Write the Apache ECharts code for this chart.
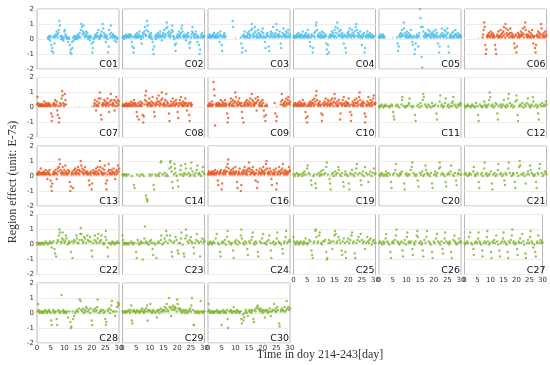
<!DOCTYPE html>
<html><head><meta charset="utf-8">
<script src="https://cdn.jsdelivr.net/npm/echarts@6/dist/echarts.min.js"></script>
<style>html,body{margin:0;padding:0;background:#fff}#c{width:550px;height:365px}</style>
</head><body><div id="c"></div>
<script>
const _ = null;
// sampling step of the series (days); values are region effect in E-7 s
const dayStep = 0.2;
const xTicks = [0, 5, 10, 15, 20, 25, 30];
const yTicks = [-2, -1, 0, 1, 2];
const panelNames = ['C01','C02','C03','C04','C05','C06','C07','C08','C09','C10','C11','C12','C13','C14','C16','C19','C20','C21','C22','C23','C24','C25','C26','C27','C28','C29','C30'];
const panelGroup = ['b','b','b','b','b','o','o','o','o','o','g','g','o','g','o','g','g','g','g','g','g','g','g','g','g','g','g'];

const C01=[_,_,_,_,_,_,_,_,_,_,_,_,_,_,_,_,_,_,_,_,
.1,0,.2,.1,-.1, .2,-.4,-.8,-.6,.1, -.9,.2,-.3,.1,.3, .2,.5,.3,.1,.4, .6,1.2,.9,.2,0, .1,.2,0,-.1,.1, .5,.6,.3,.2,.1, 0,.1,-.2,.1,0,
-.4,-.9,-.7,-1,-.2, -.6,.1,-.1,.2,.1, 0,.1,.2,0,.1, .3,.1,.2,.4,.1, .6,1,.8,.3,.5, .9,.4,.2,.1,.3, .5,.2,.4,.1,0, .2,.1,-.1,.2,.1,
-.3,-.9,-.6,-.2,0, .1,.2,.3,.1,.2, .4,.2,.6,.1,0, .2,.1,.3,.5,.2, 1,.7,.4,.1,.2, .3,-.2,.1,.2,0, -.9,-.5,.6,.3,.1, .9,.4,.2,.1,.3,
.2,.1,-.1,.2,.1, -.2,.1,0,_,_];
const C02=[.1,.2,.1,0,.2, .1,.2,.3,.1,.2, .2,.1,.3,.2,.1, .3,.2,-.2,-.5,.1, -.9,-.6,.2,.1,.3, .2,.1,.4,.2,.1, .3,.5,.2,.1,0, -.3,.2,.4,.1,.3,
.5,.8,.3,.2,.6, 1.2,.9,.5,.2,.1, .3,.1,.4,.2,0, -.2,-.7,-1,-.5,.1, .2,0,.3,.1,.2, .4,.2,.1,.3,.5, .2,.1,-.1,.2,.3, .4,.6,.2,.1,.3,
.7,1.1,.8,.4,.2, .5,.3,.1,.2,.4, .6,.9,.5,.2,.1, 0,-.4,-.8,-.3,.1, .2,.3,.1,.5,.2, .3,.1,.4,.7,.9, .5,.2,.1,.3,.2, .1,-.1,.2,.3,.1,
.4,.2,-.3,-.6,-.2, .1,.3,.5,.8,.4, .2,.1,.3,.1,.5, .3,.1,-.2,.2,.1, -.4,-1,-.7,.1,.3, .2,.4,.1,.2,.1, .2];
const C03=[.1,.2,.1,.3,.2, .1,.2,.1,.2,.3, .2,.4,.1,.2,.1, .3,.1,.2,.4,.2, .1,-.2,.3,.5,.2, -.4,-.8,.1,.2,.3, .4,.1,.2,_,_, _,_,_,_,_,
_,_,_,_,_, 1.2,.8,_,_,_, _,_,_,_,_, _,_,_,_,_, .1,-.3,-.9,-.6,.2, .3,.1,.5,.2,-.8, .1,.2,.4,.1,.3, .5,.3,.1,.2,.6,
1,.7,.3,.1,.2, .4,.8,.5,.2,.1, .3,.1,.6,.4,.2, .1,.3,.2,.5,.1, .7,.4,.2,.1,-.2, -.6,.1,.3,.2,.4, .2,-.5,-.8,.1,.3, .5,.2,.4,.1,.8,
.3,.2,.1,.4,.2, 1,.6,.3,.2,.1, .3,.5,.2,-.3,-.6, .1,.4,.2,.7,.3, .2,.1,.3,.5,.2, .1,.4,.6,.2,.1, .3];
const C04=[.1,.2,.1,.2,.1, .2,.3,.1,.2,.4, .2,.1,.3,.2,.1, .3,.2,.5,.1,.2, .1,.3,.2,.4,.1, .2,.6,.3,.1,.2, -.2,-.5,.1,.3,.2, -.9,-.6,.2,.4,.1,
.5,.9,1.1,.6,.2, .3,.1,.2,.4,.2, .1,.3,.5,.2,.1, .4,.2,.1,.3,.2, -.3,-.7,-1,-.4,.1, -.9,.2,.3,.1,.2, .5,.3,.2,.4,.1, .6,.2,.8,.4,.1,
1.1,.7,.3,.2,.5, .2,.6,.3,.1,.4, .2,.1,-.3,.3,.2, -.6,-.9,.1,.2,.4, .3,.5,.2,.7,.3, .1,.2,.6,.4,.2, .3,.1,.5,.2,.8, 1,.6,.2,.4,.1,
.3,.2,.5,.1,.2, -.4,.1,.3,.2,.4, -.9,-.6,.2,.1,.3, .5,.2,.1,.3,.2, .4,.1,.2,.3,.1, .2,.1,.2,_,_];
const C05=[.1,.2,.1,.3,.2, .1,.2,.3,.1,.2, .1,_,_,_,_, _,_,_,_,_, _,_,_,_,_, _,_,_,_,_, _,_,_,.1,-.3, -.8,-.5,.2,.3,.1,
.4,.2,.6,.3,.2, 1.1,.7,.4,.2,.1, .3,.5,.2,.1,.4, .2,.1,.3,.6,.2, .1,-.2,-.4,.1,.2, -1,-.7,-.3,.1,.2, .3,.1,-.5,.2,.4, 2,1.4,.8,-1.2,-1.9,
.8,.5,.2,.1,.3, .4,.2,.1,.3,.2, .6,.3,.2,.5,.1, .3,.1,.4,.2,.3, .5,.2,.1,.3,.6, .2,.4,.1,-.3,.2, -.9,-.5,.1,.3,.2, .7,.4,.2,.1,.3,
.6,.2,.5,.1,.3, .7,.4,-.5,-.9,.1, .2,.3,.1,.2,.4, .1,.5,.2,.1,.3, .6,.3,.2,.1,.4, .2,.1,.3,.2,.1, .2];
const C06=[_,_,_,_,_, _,_,_,_,_, _,_,_,_,_, _,_,_,_,_, _,_,_,_,_, _,_,_,_,_, _,_,_,.1,.3, .6,1.1,.8,-.4,-1,
-.7,.2,.1,.3,.2, .4,.2,.1,.5,.3, .2,.4,.1,.3,.2, .1,-.4,-.7,-1,.2, .3,.1,.5,.2,.1, .2,.6,.3,.1,.4, .2,.5,.8,.3,.1, 1,.7,.4,.2,.3,
.6,.3,.1,.4,.7, .2,.4,.1,.3,.2, .1,-.3,-.6,.2,.3, -.9,-.5,.1,.4,.2, .3,.1,.2,.5,.3, .2,.4,.7,.3,.1, .8,1.1,.6,.3,.2, .1,.3,.2,.5,.1,
.2,.4,.1,.3,.6, .2,-.3,.1,.2,-.6, -.9,-.4,.2,.3,.1, .5,.2,.4,.1,.3, 1,.7,.3,.1,.2, .4,.2,.1,.5,.3, .2];
const C07=[.2,.7,.3,.1,.2, .1,.2,.1,.2,.1, .2,.1,.2,.4,.1, .2,.1,.3,.1,.2, .1,.3,.2,.1,.2, .1,-.4,-.9,-.6,.2, .1,.3,.2,.5,.1, .2,.4,-.2,-.5,.1,
-1,-.7,.3,.1,.2, .6,1.1,.8,.3,.1, .2,.9,.5,.2,_, _,_,_,_,_, _,_,_,_,_, _,_,_,_,_, _,_,_,_,_, _,_,_,_,_,
_,_,_,_,_, _,_,_,_,_, _,_,_,_,_, _,_,_,_,_, _,_,_,_,.1, .3,.5,.2,-.2,.1, .4,.2,.1,.6,.3, 1,.6,-.5,-.8,.2,
.1,.3,.2,.5,.2, .4,.1,.3,.2,.6, .3,.1,-.3,.2,.4, .9,.5,.2,.1,.3, .2,.5,-.2,.1,.4, .7,.3,.1,.5,.2, .4];
const C08=[.1,.2,.1,.2,.1, .2,.1,.3,.2,.1, .2,.1,.2,.3,.1, .2,.4,.1,.2,.3, .1,.5,.2,.3,.1, .2,-.3,-.6,.1,.3, -.8,.2,.1,.4,.2, .1,.3,-.5,-1,-.6,
.2,.5,.8,1.1,.4, .2,.1,.3,.2,.6, .3,.1,.2,.4,.1, .7,.3,.2,-.3,-.6, .1,.3,.2,.6,.4, .2,.8,.4,.1,.3, .2,.5,1,.6,.2, .1,.3,.2,.5,.1,
.9,.4,.2,.3,.1, -.4,-.9,.1,.2,.4, .2,.1,.6,.3,.2, .4,.1,.2,.5,.3, .2,-.3,-.7,.1,.3, .5,.2,.7,.3,.1, .2,.4,.1,.3,.2, .6,.3,.1,-.2,.2,
.1,.3,-.5,-.9,.2, .3,.1,.2,_,_];
const C09=[.1,.2,.1,.3,.2, .1,.2,.4,.1,.2, 1.7,1.2,.8,-1.2,.2, .1,.3,.2,.1,.2, .3,.1,.2,.5,.2, .1,.4,.2,.3,.1, .2,.5,.3,.1,.2, -.4,-1,-.7,.2,.1,
.3,.2,.6,.4,.1, .2,.5,.3,.1,.4, 1,.7,.3,.2,.1, .4,.2,.6,.3,.2, .1,.3,-.3,-.7,.1, -1,.2,.3,.1,.4, .2,.5,.3,.1,.2, .4,.2,.6,.3,.1,
.9,.5,.2,.4,.1, .3,.2,.6,.3,-.2, .4,.7,.5,.2,.1, .3,.1,.4,.2,.1, .5,.3,-.2,-.6,.1, -.9,-.5,.2,.1,_, _,_,_,_,_, _,_,_,_,_,
_,_,.3,-.4,_, -.9,-.6,_,_,_, _,_,_,.2,.4, .9,.5,.2,.1,.3, .2,.4,.1,.6,.3, .2,.5,.7,.3,.2, .4];
const C10=[.1,.2,.1,.3,.2, .2,.1,.2,.3,.1, .2,.4,.1,.2,.3, .1,.2,.5,.2,.1, .3,.2,-.3,-.7,.1, -1,-.6,.2,.1,.3, .2,.4,.1,.3,.2, .5,.3,.1,.6,.2,
.4,.8,1.1,.5,.2, .1,.3,.2,.4,.1, .2,-.4,-.9,-.5,.2, .3,.1,.4,.2,.6, .2,.3,.1,.5,.2, .4,.2,.1,.3,.5, .2,.6,.3,.1,.4, .9,.6,.3,.2,.1,
.4,.2,.1,.5,.3, -.8,-.4,.2,.3,.1, .5,.2,.7,.3,.1, .2,.4,.1,.3,.2, .3,.6,.2,.1,-.3, -.9,-.5,.2,.4,.1, .3,.2,.5,.1,.3, .6,.3,.1,.4,.2,
.7,1,.5,.2,.1, .3,.2,.4,.1,.3, -.4,-1,-.6,.2,.1, .4,.2,.7,.3,.1, .2,.5,.3,.1,.4, .2,.6,.8,.3,.2, .3];
const C11=[.1,0,.1,_,.1, .2,_,_,0,.1, .1,_,.2,.1,_, _,_,.1,_,0, .1,_,_,.2,.1, _,-.3,-.6,-.8,_, _,.1,_,.2,_, .1,_,0,_,_,
_,.2,.5,.7,_, .1,_,_,0,.1, _,_,.1,_,.2, .3,.6,_,_,.1, _,0,_,.1,_, _,-.5,-.9,_,_, .1,_,.2,_,0, _,.3,_,.1,_,
.5,.9,.7,_,.2, _,.1,_,0,_, .2,_,.1,_,_, 0,_,.3,.1,_, _,.1,_,.2,_, -.4,-.8,_,.1,_, _,.4,.8,_,.1, .2,_,0,_,.1,
_,.3,.6,_,_, .1,_,.2,0,_, _,.1,_,.3,.1, .4,.7,_,.2,_, .1,_,0,_,.2, _,.1,.2,_,.3, .2];
const C12=[_,.1,0,.1,_, .1,.2,_,.1,_, _,0,.1,_,.2, .1,_,_,.1,0, _,.3,_,.1,_, -.5,-.9,_,.2,_, .1,_,0,_,.1, _,.4,_,.2,.1,
0,_,.1,_,.2, .5,1,.7,_,.1, _,.2,_,0,_, .1,_,.3,_,.2, -.4,-.8,_,.1,_, _,.2,0,_,.1, .2,_,.5,_,.1, _,0,_,.2,.1,
.6,.9,_,.3,_, .1,_,.2,_,0, _,.1,_,.4,_, .8,.5,-.5,-.9,_, .1,_,.2,_,.1, _,.3,_,0,_, .2,_,.1,_,.3, _,.6,.2,_,.1,
0,_,.1,.2,_, .7,.4,_,.1,_, _,.2,_,0,.1, -.4,-.8,_,.2,_, .1,_,.3,_,.1, _,.2,.1,_,.4, .2];
const C13=[.1,.2,.1,.2,.3, .1,.2,.5,.1,.2, .2,.1,.3,.2,.1, .2,.4,.1,.2,-.2, .3,.1,.2,.4,.1, -.3,-.7,-1,-.5,.1, .2,.3,.1,.2,.4, .2,-.2,.1,.5,.3,
.6,1.1,.8,.4,.2, .1,.3,.6,.2,.1, .4,.2,.7,.3,.1, .2,.1,.4,.2,.3, -.4,-1,-.7,.1,.2, .3,-.8,.1,.4,.2, .5,.3,.1,.2,.4, .6,.2,.4,.1,.3,
1,.7,.3,.5,.2, .1,.4,.2,.6,.3, .2,.1,.3,.2,.1, -.3,-.6,.2,.1,.3, -.9,-.5,.2,.4,.2, .1,.3,.2,.5,.1, .3,.6,.2,.1,.4, 1,.6,.3,.2,.1,
.5,.2,.1,.4,.7, .2,-.5,-.9,-.3,.1, .3,.8,.4,.2,.1, .2,.4,.1,.3,.2, .5,.2,.1,-.2,.3, .1,.4,.2,.7,.3, .5];
const C14=[.1,0,.1,.1,_, .1,_,0,.1,_, _,.1,_,_,_, _,_,0,_,_, _,-.6,-.8,_,_, _,_,.1,_,_, _,0,_,_,.1, _,_,.1,_,0,
_,_,_,-1.3,-1.5, -1.7,-1.6,_,_,.1, _,0,_,_,.1, _,_,-.6,-.9,_, .1,_,0,_,_, .1,_,0,.2,_, .9,1,_,.1,_, _,_,.2,_,0,
_,.1,_,0,_, _,.5,.9,1,.6, .3,-.4,-.8,_,.1, .8,.5,.2,_,0, _,-.3,-.7,_,_, .1,.4,.7,_,.1, _,0,_,.2,.1, .8,.5,_,.1,_,
_,.2,_,0,.1, .5,.9,_,.3,_, .1,_,0,_,.2, _,.4,.7,_,.1, .2,_,.1,_,0, _,.3,.6,_,.2, .1];
const C16=[.1,.2,.3,.1,.2, .2,.1,.3,.2,.1, .3,.2,.1,.4,.2, .1,.2,.3,-.3,-.6, .2,.1,.3,.2,.4, -.9,-.5,.2,.1,.3, .4,.2,.1,.3,.6, .3,.8,1.1,.5,.2,
.1,.3,.2,.4,.1, .2,.5,.3,.1,.2, .6,.3,.2,-.4,-.8, .1,.3,.2,.5,.1, -1,-.6,.2,.3,.1, .4,.2,.6,.3,.1, .2,.4,.1,.3,.5, .9,.5,.3,.1,.2,
.4,.2,.6,.3,.1, .2,.1,-.3,.2,.4, -.8,-.4,.1,.3,.2, .5,.2,.1,.4,.3, .2,.6,.3,.1,.2, .4,.8,1,.5,.2, .1,.3,.2,.5,.1, .3,-.2,-.6,.2,.1,
.4,.2,.1,.3,.5, -.9,-.5,.2,.1,.3, .6,.3,.1,.2,.4, .2,.5,.8,.3,.1, .2,.4,.1,.3,.2, .1,.3,.2,.6,.3, .4];
const C19=[.1,_,0,.1,_, _,.2,_,.1,0, .1,_,_,.1,_, _,0,.2,_,.1, .3,_,.1,_,_, .5,.7,_,.2,_, .1,_,-.3,-.6,_, _,0,_,.1,_,
-.5,-.8,_,.1,_, _,.2,_,0,.1, .3,_,.1,_,.4, _,.1,_,.2,_, .6,.9,_,.1,_, _,-.2,-.5,-.9,_, .1,_,.2,_,0, _,.3,_,.1,_,
.2,_,.6,.4,_, .1,_,0,_,.2, _,-.4,-.7,_,.1, .3,_,.1,_,0, _,-.5,-.9,_,.2, .1,_,.4,_,.1, _,0,_,.2,_, .5,.8,_,.1,_,
_,.2,_,-.3,-.6, .1,_,.3,_,0, _,.6,_,.2,_, .1,_,-.4,_,.1, _,.3,_,0,_, .2,_,.5,_,.1, .2];
const C20=[_,.1,0,_,.1, .2,_,.1,_,0, _,.1,_,.3,.1, 0,_,.2,_,_, .1,_,-.4,-.8,_, _,.1,_,.2,_, .4,.8,_,.1,_, _,0,_,.1,.2,
.1,_,.3,_,_, _,-.5,-.9,_,.1, .2,_,0,_,.1, _,.1,_,.4,_, .6,.9,_,.2,_, .1,_,0,_,.1, _,-.3,-.7,_,_, .2,_,.1,_,.3,
_,0,_,.1,_, .7,.4,_,.2,.1, _,.1,_,0,_, .2,_,-.5,-.8,_, _,.1,_,.3,.1, 0,_,.2,_,_, .5,.9,.6,_,.1, _,.2,_,.1,_,
0,_,-.4,-.7,_, .1,_,.2,_,.1, _,.3,.7,_,_, .1,_,0,_,.2, _,-.3,-.6,_,.1, .2,_,.4,_,.1, .1];
const C21=[.1,_,.2,.1,_, _,0,_,.1,.2, .1,_,.1,_,_, _,.3,.6,_,.1, 0,_,.1,_,.2, _,-.4,-.8,_,_, .1,_,.2,_,0, _,.5,.9,_,.1,
.2,_,0,_,.1, _,.1,_,.3,_, -.5,-.9,_,.1,_, .2,_,0,_,.1, _,.4,.8,_,_, .1,_,.2,_,0, _,.1,_,-.3,-.6, .2,_,.1,_,_,
.5,.9,_,.2,_, _,0,_,.1,.2, .1,_,-.4,-.8,_, _,.2,_,0,_, .6,1,.7,_,.1, _,.1,_,.2,_, 0,_,-.5,_,.1, _,.3,_,.1,_,
.7,.4,_,.2,_, .1,_,0,_,.1, _,-.4,-.8,_,.2, .1,_,.5,.8,_, _,.2,_,0,_, .1,_,.3,_,.2, .1];
const C22=[.1,0,.1,.1,0, .1,.1,_,0,.1, .1,_,.1,0,_, .1,.2,_,.1,_, 0,_,.1,_,.2, .1,_,-.2,.1,_, .2,_,-.3,-.6,_, -.8,.1,_,.3,.2,
.6,1,.8,_,.1, .2,.4,.8,_,.3, .1,_,.2,.6,.4, _,0,_,.1,.2, .1,_,-.5,_,.2, -.9,_,.1,.3,_, .2,_,.6,.4,.1, _,.1,_,.3,.7,
1.1,.7,.3,_,.1, .2,.5,_,.4,_, .1,_,.6,.3,_, .2,_,.5,.2,_, -.4,-.8,_,.1,_, .3,.6,_,.2,.1, _,.4,.7,_,.1, .2,_,.3,.6,_,
.1,_,0,.1,_, .5,.9,.3,_,-.2, -.8,.1,_,.1,_, 0,.1,_,.2,.1, _,.1,0,_,.1, .1,_,.2,.1,_, .1];
const C23=[.6,.3,.1,0,.1, .1,_,0,.1,_, .1,0,_,.1,_, _,.2,.1,_,0, .1,_,.1,_,_, -.5,-.9,_,.3,.1, _,0,_,.1,.2, .1,_,-1,_,.1,
.4,1.2,_,.2,.1, _,.1,_,0,_, .2,_,.3,_,.1, -.3,-.7,_,.1,_, 0,_,-.9,_,.1, _,.2,_,.1,_, .3,.6,_,0,_, .1,_,.4,_,.2,
.9,.6,_,.1,_, _,.3,.6,_,.2, -.5,-.8,_,.1,_, .2,_,.5,_,.3, _,-.4,-.6,_,.1, .1,_,.4,.8,_, 0,_,-.6,-.8,_, .4,1,.6,_,.2,
_,.1,_,.3,_, .5,.2,_,.1,_, -.2,-.6,_,.1,_, .3,.7,_,.2,_, .1,_,-.8,_,.2, _,.4,_,.1,.3, .2];
const C24=[.1,0,_,.1,.2, _,.1,0,_,.1, .2,_,.1,_,.4, _,.7,_,.1,_, 0,_,-.5,-.8,_, .1,_,.2,_,.1, _,.3,_,0,_, .5,.9,_,.2,_,
.1,_,0,_,.1, _,-.4,-.9,_,.2, .1,_,.3,_,0, _,.2,_,.1,_, .6,1,.4,_,.1, _,0,_,.2,_, .1,_,-.3,-.7,_, .2,_,.1,_,.3,
_,.5,.8,_,.1, 0,_,.2,_,.1, _,-.5,-.8,_,_, .2,_,.1,_,.4, _,.7,_,.1,_, .1,_,0,.2,_, _,.3,.6,_,.1, -.4,-.9,_,.1,_,
.2,_,0,_,.1, _,.4,.8,_,.2, .1,_,.1,_,0, _,-.3,-.6,_,.1, .2,_,.5,.9,_, .1,_,.2,_,.3, .2];
const C25=[.5,.2,_,.1,0, .1,_,.2,_,.1, 0,_,.1,.2,_, _,.1,_,0,.2, .1,_,.4,_,.1, 0,_,.1,_,.3, _,.2,_,-.4,-.7, -.9,_,.1,.2,_,
.9,1,.5,_,.1, .2,_,.6,.8,_, .1,_,0,_,.2, _,.2,_,.3,_, -.5,-1,-.9,_,.1, .3,_,.1,_,.2, _,-.3,_,.2,_, .6,.9,.7,_,.1,
.2,_,.5,_,.3, _,.1,_,-.4,-.7, .2,_,.4,_,.1, -.5,-.9,_,.2,_, .4,_,.1,_,.3, _,.6,.8,_,.1, .2,_,-.6,-.9,_, .1,_,.3,_,.5,
_,.2,_,.7,_, .3,_,.1,_,.2, _,-.3,_,.1,_, .5,.2,_,.1,.3, _,.4,_,0,_, .2,_,.3,.1,_, .1];
const C26=[.1,_,.2,_,.1, _,0,_,.2,.1, .1,_,.4,.7,_, .2,_,.1,_,0, _,-.5,-.9,_,.1, .2,_,.1,_,.3, _,.6,1,_,.2, .1,_,0,_,.1,
_,.2,_,-.4,-.8, .1,_,.3,_,0, _,.5,.8,_,.1, .2,_,.1,_,.2, _,-.3,-.7,_,.1, 0,_,.2,_,.6, .9,.5,_,.1,_, _,.2,_,0,.1,
-.4,-.8,_,.3,_, .1,_,.5,.9,_, _,.2,_,.1,_, 0,_,-.5,-.9,_, .2,_,.1,_,.4, _,.7,_,.2,_, .1,_,0,_,.2, _,-.3,-.6,_,.1,
.4,.8,_,.2,_, _,.1,_,0,.2, .1,_,-.5,-.9,_, _,.3,_,.6,.2, .1,_,0,_,.1, _,.4,_,.2,.1, .2];
const C27=[.1,0,_,.1,_, .2,_,.1,_,.5, _,.8,_,.1,_, 0,_,-.3,-.7,_, .1,_,.2,_,.1, _,.4,.8,_,.2, .1,_,0,_,-.4, -.8,_,.1,_,.2,
_,.1,_,.5,.9, .2,_,0,_,.1, _,-.5,-.9,_,.2, .1,_,.3,_,.1, _,.6,_,.2,_, 0,_,-.4,-.8,_, .1,_,.2,_,.4, .8,_,.2,_,.1,
_,0,_,-.5,-.9, .2,_,.1,_,.3, _,.6,1,_,.1, .2,_,0,_,.1, _,-.3,-.7,_,.2, .1,_,.4,_,.1, _,.7,_,.2,_, 0,_,-.6,-.9,_,
.1,_,.3,_,.1, _,.5,.9,_,.2, .1,_,-.2,_,0, _,-.5,-.8,_,.1, .2,_,.6,_,.1, _,.3,_,.1,.2, .1];
const C28=[_,.1,.6,.2,.1, 0,.1,_,.1,0, .1,_,0,.1,_, .2,.1,_,0,.1, .1,_,.2,.1,_, 0,-.5,-.8,_,.1, .2,_,0,.1,_, .1,-.4,-.8,_,.2,
.1,_,0,.1,_, 1.2,_,.1,.2,0, .1,_,.1,0,_, .1,_,-.3,_,.1, _,-.6,-1,-.9,_, .1,-.4,_,-.2,_, 0,.1,_,.2,_, .1,_,.3,.9,_,
.8,.2,_,.1,.3, _,0,.2,_,.1, .4,.3,_,.1,_, .2,_,0,.3,_, -.5,-.8,_,.2,.1, _,.3,_,.1,.2, .4,.9,_,0,_, .1,_,.2,.1,_,
_,.2,0,_,.1, -.4,-.8,-.6,_,.2, .1,_,.3,_,0, .2,.5,.8,_,.1, _,.1,_,-.2,_, .1,.4,_,.7,.5, .6];
const C29=[.1,0,.1,_,.1, .1,0,.1,.1,_, .1,.2,_,.1,0, .2,.5,-.5,-.7,.1, .1,.2,_,.1,0, .1,_,.2,.1,_, .1,0,.1,_,.2, .1,.3,_,.1,0,
.2,.1,_,.3,.1, .5,-.5,.2,.1,_, .2,.6,.1,_,0, .1,.2,_,.1,_, 0,_,.1,-.3,.2, .1,_,.2,0,_, .3,.1,_,.2,.1, _,.2,.4,_,.1,
.3,.6,_,.2,.1, 1,.4,_,.3,-.2, .4,.2,_,.5,.3, .2,.4,.3,_,.1, .9,.6,.3,_,.2, .3,.1,_,.2,0, .1,_,.2,.1,_, 0,.2,_,.1,0,
_,.1,.2,_,.3, .1,.5,1,_,.2, -.8,-.8,.1,_,0, .1,_,.1,0,_, .1,0,_,.8,.1, _,.1,0,.1,_, .1];
const C30=[.1,.6,.2,.1,0, .1,_,.1,0,.1, .1,0,_,.1,_, .1,.2,_,0,.1, .1,_,0,.1,_, -.8,.1,_,.2,0, .1,_,.1,0,_, .2,-.4,-1,_,.1,
.1,_,.2,.1,0, _,.1,.4,.1,_, .1,0,_,.2,.1, .1,_,0,.1,_, .1,-.4,-.7,_,-.1, -.5,-.3,0,_,.2, .1,0,_,-.2,_, .1,.2,_,.1,0,
.2,.1,_,-.4,-.6, .2,_,.1,.3,_, .4,.5,.3,_,.2, .1,.3,_,.2,.1, 0,.2,_,.1,-.3, .2,_,.1,.2,_, 0,.1,_,.3,.1, -.2,_,.1,.2,_,
.2,.6,_,.1,.3, .1,_,.4,.2,_, -.7,-.9,_,.1,.2, .3,_,.2,.1,_, .4,.1,_,.2,.8, .3,_,.4,.2,_, .3];

const panelData = [C01,C02,C03,C04,C05,C06,C07,C08,C09,C10,C11,C12,C13,C14,C16,C19,C20,C21,C22,C23,C24,C25,C26,C27,C28,C29,C30];
const groupColor = { b: '#45BDEC', o: '#E8541C', g: '#7DB52E' };

const chart = echarts.init(document.getElementById('c'), null, { renderer: 'canvas' });
const L0 = 37, CS = 85.5, T0 = 9, RS = 68.5, W = 82, H = 60;
const grids = [], xAxes = [], yAxes = [], series = [], graphics = [];
const nPanels = panelNames.length;
panelNames.forEach((name, i) => {
  const row = Math.floor(i / 6), col = i % 6;
  const left = L0 + col * CS, top = T0 + row * RS;
  const lastInCol = (i + 6 >= nPanels);
  grids.push({ left, top, width: W, height: H, show: true, borderColor: '#b8b8b8', borderWidth: 1, backgroundColor: '#fff', containLabel: false });
  xAxes.push({ gridIndex: i, type: 'value', min: 0, max: 30, interval: 5,
    axisLine: { show: false }, axisTick: { show: true, inside: true, length: 2, lineStyle: { color: '#cfcfcf' } },
    splitLine: { show: false },
    axisLabel: { show: lastInCol, fontSize: 7, color: '#333', margin: 2, fontFamily: 'DejaVu Sans' } });
  yAxes.push({ gridIndex: i, type: 'value', min: -2, max: 2, interval: 1,
    axisLine: { show: false }, axisTick: { show: false },
    splitLine: { show: true, lineStyle: { color: '#ededed', width: 1 } },
    axisLabel: { show: col === 0, fontSize: 7, color: '#333', margin: 3, fontFamily: 'DejaVu Sans' } });
  const pts = [];
  panelData[i].forEach((v, k) => { if (v !== null && v !== undefined) pts.push([+(k * dayStep).toFixed(2), v]); });
  series.push({ type: 'scatter', xAxisIndex: i, yAxisIndex: i, data: pts, symbol: 'circle', symbolSize: 2.4,
    itemStyle: { color: groupColor[panelGroup[i]] }, silent: true, animation: false });
  graphics.push({ type: 'text', x: left + W - 1, y: top + H + 1,
    style: { text: name, font: '9.5px "DejaVu Sans"', fill: '#111', textAlign: 'right', textVerticalAlign: 'bottom' } });
});
graphics.push({ type: 'text', x: 13, y: 182, rotation: Math.PI / 2,
  style: { text: 'Region effect (unit: E-7s)', font: '12px "Liberation Serif"', fill: '#333', textAlign: 'center', textVerticalAlign: 'middle' } });
graphics.push({ type: 'text', x: 320, y: 355,
  style: { text: 'Time in doy 214-243[day]', font: '12px "Liberation Serif"', fill: '#333', textAlign: 'center', textVerticalAlign: 'middle' } });

chart.setOption({ animation: false, backgroundColor: '#fff', grid: grids, xAxis: xAxes, yAxis: yAxes, series, graphic: graphics });
</script></body></html>
